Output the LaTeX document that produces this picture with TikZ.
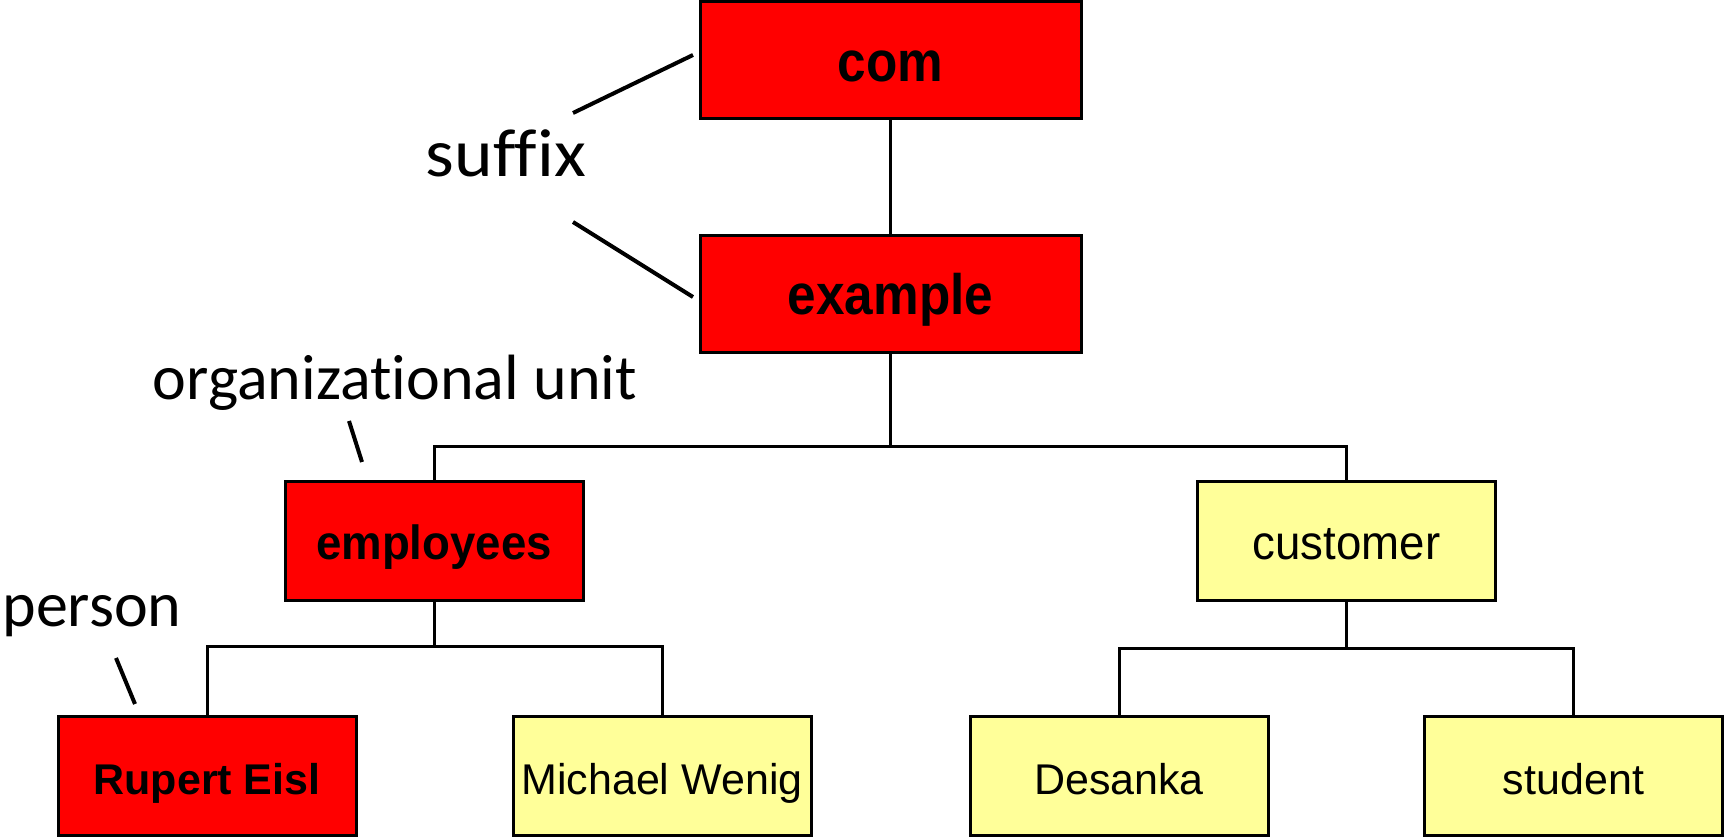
\documentclass[tikz,border=0pt]{standalone}
\usepackage{fontspec}
\usepackage{graphicx}
\setmainfont{Carlito}[Ligatures=NoCommon]
\newfontfamily\boxfont{Liberation Sans}
\newfontfamily\topboxfont{Liberation Sans}[FakeStretch=0.9]
\newfontfamily\midboxfont{Liberation Sans}[FakeStretch=0.95]
\definecolor{dirred}{HTML}{FF0000}
\definecolor{diryellow}{HTML}{FFFF99}
\begin{document}
\begin{tikzpicture}[x=0.5pt,y=-0.5pt,
  entry/.style={draw=black, line width=1.5pt, inner sep=0pt, minimum width=149pt, minimum height=59.5pt,
                text height=18.5pt, text depth=0pt},
  hot/.style={entry, fill=dirred},
  plain/.style={entry, fill=diryellow},
  toplevel/.style={hot, minimum width=190.5pt, minimum height=58.5pt, text height=21pt,
                   font=\topboxfont\bfseries\fontsize{28.5}{32}\selectfont},
  midlevel/.style={font=\midboxfont\fontsize{24}{28}\selectfont},
  leaflevel/.style={font=\boxfont\fontsize{21.5}{26}\selectfont},
  link/.style={draw=black, line width=1.5pt},
  leader/.style={draw=black, line width=2pt},
  note/.style={font=\fontsize{32}{38}\selectfont, anchor=base, inner sep=0pt}]
\useasboundingbox (0,0) rectangle (1725,838);

% directory tree entries
\node[toplevel] (com) at (890.5,60.5) {com};
\node[toplevel] (example) at (890.5,294) {example};
\node[hot, midlevel] (employees) at (434,541.5) {\bfseries employees};
\node[plain, midlevel] (customer) at (1346.5,541.5) {customer};
\node[hot, leaflevel] (rupert) at (207,776.5) {\bfseries Rupert Eisl};
\node[plain, leaflevel] (michael) at (662,776.5) {Michael Wenig};
\node[plain, leaflevel] (desanka) at (1119,776.5) {Desanka};
\node[plain, leaflevel] (student) at (1573.5,776.5) {student};

% levels of the horizontal branch bars
\coordinate (barA) at (0,447);
\coordinate (barB) at (0,647);
\coordinate (barC) at (0,649);

% tree connectors
\draw[link] (com.south) -- (example.north);
\draw[link] (example.south) -- (example.south |- barA);
\draw[link] (employees.north) -- (employees.north |- barA) -- (customer.north |- barA) -- (customer.north);
\draw[link] (employees.south) -- (employees.south |- barB);
\draw[link] (rupert.north) -- (rupert.north |- barB) -- (michael.north |- barB) -- (michael.north);
\draw[link] (customer.south) -- (customer.south |- barC);
\draw[link] (desanka.north) -- (desanka.north |- barC) -- (student.north |- barC) -- (student.north);

% annotations
\node[note, font=\fontsize{34}{40}\selectfont] (suffix) at (506,177) {\scalebox{1.08}[1]{suffix}};
\node[note] (ou) at (395,400) {organizational unit};
\node[note] (person) at (92,627) {person};

\coordinate (sA) at (573,113);
\coordinate (sAe) at (693,55);
\coordinate (sB) at (573,222);
\coordinate (sBe) at (693,297);
\coordinate (ouA) at (349,421);
\coordinate (ouB) at (362,462);
\coordinate (pA) at (116,658);
\coordinate (pB) at (135,704);
\draw[leader] (sA) -- (sAe);
\draw[leader] (sB) -- (sBe);
\draw[leader] (ouA) -- (ouB);
\draw[leader] (pA) -- (pB);
\end{tikzpicture}
\end{document}
